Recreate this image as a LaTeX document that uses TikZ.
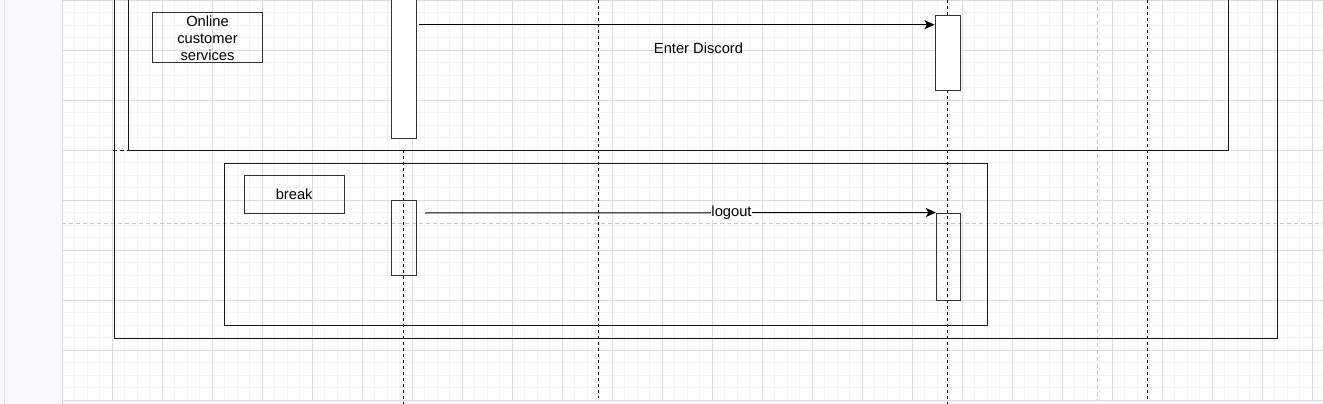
\documentclass[tikz,border=0pt]{standalone}
\usepackage{fontspec}
\setmainfont{Liberation Sans}
\usetikzlibrary{arrows.meta}
\definecolor{panelgrey}{HTML}{F8F9FA}
\definecolor{gridminor}{HTML}{F4F4F4}
\definecolor{gridmajor}{HTML}{DDDDDD}
\definecolor{pagebreak}{HTML}{C8C8C8}
\definecolor{edgegrey}{HTML}{333333}

\begin{document}
\begin{tikzpicture}[x=1pt, y=-1pt, >={Stealth[length=10pt, width=9pt, inset=2.5pt]},
    lifeline/.style={black, line width=1pt, dash pattern=on 3pt off 3pt},
    framebox/.style={black!90, line width=1pt},
    actbox/.style={draw=edgegrey, line width=1pt, minimum width=25pt, inner sep=0pt},
    tagbox/.style={draw=edgegrey, line width=1pt, inner sep=0pt, align=center},
    msg/.style={->, black, line width=1pt},
    txt/.style={font=\fontsize{14.7}{17}\selectfont}]

    % 1. Canvas, side panel and grid
    \clip (0,0) rectangle (1323,404);
    \fill[panelgrey] (0,0) rectangle (1323,404);
    \fill[white] (62,0) rectangle (1323,401);
    \draw[gridmajor!70] (4,0) -- (4,404);
    \draw[gridmajor] (62,0) -- (62,404);
    \foreach \gx in {62,74.5,...,1323} \draw[gridminor] (\gx,0) -- (\gx,401);
    \foreach \gy in {0,12.5,...,401} \draw[gridminor] (62,\gy) -- (1323,\gy);
    \foreach \gx in {62,112,...,1323} \draw[gridmajor] (\gx,0) -- (\gx,401);
    \foreach \gy in {0,50,...,400} \draw[gridmajor] (62,\gy) -- (1323,\gy);

    % Page break guides
    \draw[pagebreak, dash pattern=on 4pt off 3pt] (62,223) -- (1323,223);
    \draw[pagebreak, dash pattern=on 4pt off 3pt] (1097,0) -- (1097,401);

    % 2. Lifelines
    \draw[lifeline] (403.5,150) -- (403.5,404);
    \draw[lifeline] (598,0) -- (598,398);
    \draw[lifeline] (947.3,0) -- (947.3,404);
    \draw[lifeline] (1147.3,0) -- (1147.3,401);

    % 3. Combined fragments
    \draw[framebox] (114,-5) -- (114,338) -- (1277,338) -- (1277,-5);
    \draw[framebox] (128,-5) -- (128,150.7) -- (1228,150.7) -- (1228,-5);
    \draw[framebox, dash pattern=on 4pt off 3pt] (113,150.7) -- (128,150.7);
    \draw[framebox] (224.5,163.3) rectangle (987.3,325.3);

    % Fragment tags
    \node[tagbox, txt, minimum width=109.6pt, minimum height=50pt] (tagOnline) at (207.5,38) {Online\\customer\\services};
    \node[tagbox, txt, minimum width=100.3pt, minimum height=37.7pt] (tagBreak) at (294.2,194.2) {break};

    % 4. Activation bars
    \node[actbox, fill=white, minimum height=143pt] (actA1) at (403.5,66.5) {};
    \node[actbox, fill=white, minimum height=75.4pt] (actB1) at (947.5,53) {};
    \node[actbox, minimum height=75pt] (actA2) at (403.5,238.2) {};
    \node[actbox, minimum width=23.7pt, minimum height=87.7pt] (actB2) at (948.2,256.9) {};

    % 5. Messages
    \coordinate (enterFrom)  at (419,24.7);
    \coordinate (logoutFrom) at (425,213);
    \draw[msg] (enterFrom) -- (enterFrom -| actB1.west);
    \node[txt] (lblEnter) at (698.5,48) {Enter Discord};
    \draw[msg] (logoutFrom) -- (actB2.north west)
        node[txt, pos=0.6, fill=white, inner sep=0.5pt] (lblLogout) {logout};

\end{tikzpicture}
\end{document}
